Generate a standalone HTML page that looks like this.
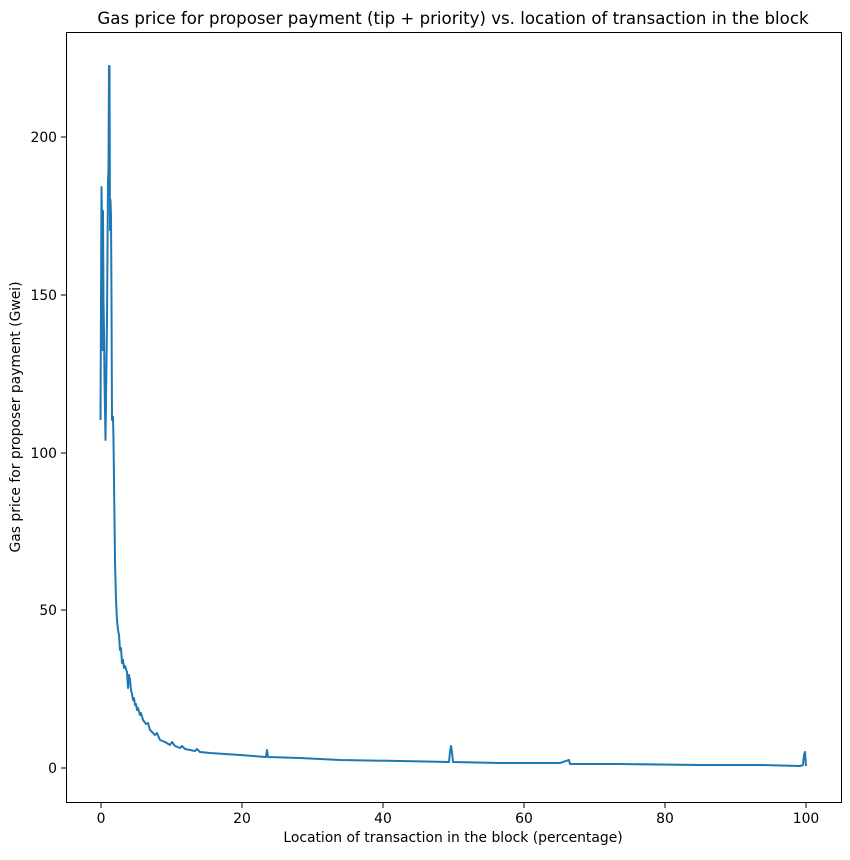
<!DOCTYPE html>
<html><head><meta charset="utf-8"><style>body{margin:0;background:#fff}</style></head><body>
<svg width="850" height="855" xmlns="http://www.w3.org/2000/svg" font-family="DejaVu Sans, Liberation Sans, sans-serif">
<rect width="850" height="855" fill="#fff"/>
<text x="453" y="24" font-size="16.6" text-anchor="middle">Gas price for proposer payment (tip + priority) vs. location of transaction in the block</text>
<polyline fill="none" stroke="#1f77b4" stroke-width="2" stroke-linejoin="round" points="
100.5,420 101.5,187 102,220 102.5,350 103,211 103.5,300 104,330 104.5,380 105.5,440 106,400 107,320 108,180 108.5,170 109,66 109.5,66 110,230 110.5,200 111,216 111.5,300 112,420 113,417 113.5,440 114,480 114.5,520 115,560 116,600 117,620 118,630 119,635 120,650 121,648 122,663 123,660 124,668 125,666 127,672 128,688 129,675 130,680 131,690 132,694 133,700 134,698 135,705 136,704 137,710 138,708 140,715 141,713 143,720 146,724 148,723 150,730 155,735 157,733 160,740 165,742 170,745 172,742 175,746 180,748 182,746 185,749 190,750 195,751 197,749 200,752 210,753 240,755 266,757 267,750 268,757 300,758 340,760 400,761 449,762 450,752 451,746 452,752 453,762 500,763 560,763 569,760 570,764 620,764 700,765 760,765 800,766 803,765 804,755 805,752 806,766"/>
<g stroke="#000" stroke-width="1" fill="none">
<rect x="66.5" y="32.5" width="775" height="770"/>
<line x1="101" y1="803" x2="101" y2="808"/><line x1="242" y1="803" x2="242" y2="808"/><line x1="383" y1="803" x2="383" y2="808"/><line x1="524" y1="803" x2="524" y2="808"/><line x1="665" y1="803" x2="665" y2="808"/><line x1="806" y1="803" x2="806" y2="808"/>
<line x1="61" y1="768" x2="66" y2="768"/><line x1="61" y1="610" x2="66" y2="610"/><line x1="61" y1="453" x2="66" y2="453"/><line x1="61" y1="295" x2="66" y2="295"/><line x1="61" y1="137" x2="66" y2="137"/>
</g>
<g font-size="13.9" text-anchor="middle">
<text x="101" y="823">0</text><text x="242" y="823">20</text><text x="383" y="823">40</text><text x="524" y="823">60</text><text x="665" y="823">80</text><text x="806" y="823">100</text>
<text x="453" y="842">Location of transaction in the block (percentage)</text>
</g>
<g font-size="13.9" text-anchor="end">
<text x="57" y="773">0</text><text x="57" y="615">50</text><text x="57" y="458">100</text><text x="57" y="300">150</text><text x="57" y="142">200</text>
</g>
<text font-size="13.9" text-anchor="middle" transform="translate(20,417) rotate(-90)">Gas price for proposer payment (Gwei)</text>
</svg>
</body></html>
